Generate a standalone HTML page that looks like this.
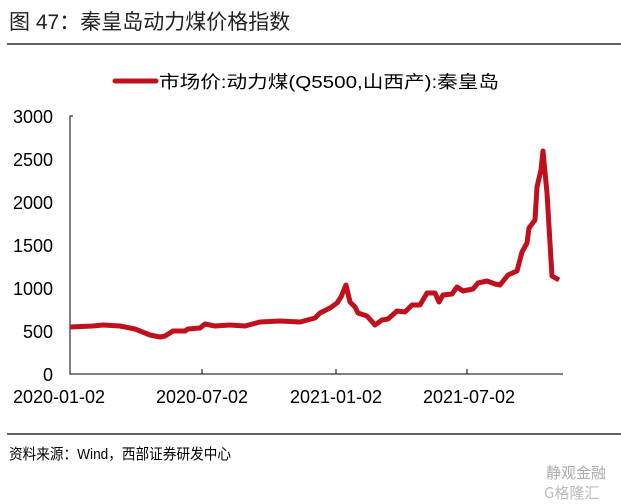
<!DOCTYPE html>
<html><head><meta charset="utf-8"><style>
body{margin:0;background:#fff;width:621px;height:504px;overflow:hidden;font-family:"Liberation Sans","Noto Sans CJK SC",sans-serif;}
</style></head><body>
<svg width="621" height="504" xmlns="http://www.w3.org/2000/svg" style="position:absolute;left:0;top:0">
<text x="9" y="29" font-size="21" fill="#222" font-family="Liberation Sans, Noto Sans CJK SC, sans-serif">图 47：秦皇岛动力煤价格指数</text>
<line x1="7" y1="44" x2="621" y2="44" stroke="#000" stroke-width="1.2"/>
<line x1="115" y1="81" x2="156" y2="81" stroke="#c0101e" stroke-width="5" stroke-linecap="round"/>
<text x="159" y="88" font-size="17.5" fill="#000" textLength="340" lengthAdjust="spacingAndGlyphs" font-family="Liberation Sans, Noto Sans CJK SC, sans-serif">市场价:动力煤(Q5500,山西产):秦皇岛</text>
<g font-size="18" fill="#000" text-anchor="end" font-family="Liberation Sans, sans-serif">
<text x="53" y="123">3000</text><text x="53" y="166">2500</text><text x="53" y="209">2000</text>
<text x="53" y="252">1500</text><text x="53" y="295">1000</text><text x="53" y="338">500</text><text x="53" y="381">0</text>
</g>
<g stroke="#000" stroke-width="1" fill="none">
<path d="M73,116H70V374H563"/>
<path d="M202,374v-5M336,374v-5M467,374v-5"/>
</g>
<g font-size="18" fill="#000" text-anchor="middle" font-family="Liberation Sans, sans-serif">
<text x="59" y="403">2020-01-02</text><text x="202" y="403">2020-07-02</text><text x="336" y="403">2021-01-02</text><text x="469" y="403">2021-07-02</text>
</g>
<polyline fill="none" stroke="#c0101e" stroke-width="5" stroke-linejoin="round" points="70,327 93,326 103,325 120,326 135,329 150,335 160,337 165,336 173,331 185,331 188,329 200,328 205,324 215,326 230,325 245,326 260,322 280,321 300,322 315,318 320,313 330,308 337,303 341,297 346,285 350,302 355,307 358,313 367,316 375,325 382,320 388,319 397,311 405,312 412,305 420,305 427,293 435,293 439,302 443,295 452,294 457,287 463,291 473,289 478,283 487,281 495,284 500,285 508,275 517,271 522,252 527,243 529,228 535,220 537,187 541,170 543,151 547,193 552,276 559,280"/>
<line x1="7" y1="434" x2="621" y2="434" stroke="#000" stroke-width="1.2"/>
<text x="9" y="459" font-size="15" fill="#000" textLength="222" lengthAdjust="spacingAndGlyphs" font-family="Liberation Sans, Noto Sans CJK SC, sans-serif">资料来源：Wind，西部证券研发中心</text>
<text x="546" y="478" font-size="15" fill="#aaa" font-family="Noto Sans CJK SC, sans-serif">静观金融</text>
<text x="544" y="498" font-size="15" fill="#bbb" font-family="Noto Sans CJK SC, sans-serif">G格隆汇</text>
</svg>
</body></html>
